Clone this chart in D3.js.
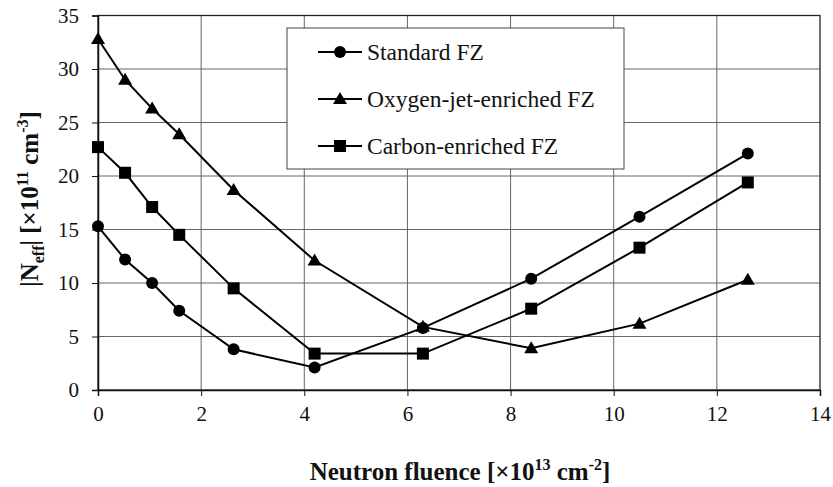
<!DOCTYPE html>
<html>
<head>
<meta charset="utf-8">
<script src="https://cdn.jsdelivr.net/npm/d3@7"></script>
<style>
  body { margin: 0; background: #fff; }
  svg { font-family: "Liberation Serif", "Times New Roman", serif; }
</style>
</head>
<body>
<div id="chart"></div>
<script>
// fluence values [x10^13 cm^-2]
var fluence = [0, 0.525, 1.05, 1.575, 2.63, 4.2, 6.3, 8.4, 10.5, 12.6];
// |Neff| [x10^11 cm^-3]
var standardFZ = [15.3, 12.2, 10.0, 7.4, 3.8, 2.1, 5.8, 10.4, 16.2, 22.1];
var oxygenFZ   = [32.8, 29.0, 26.3, 23.9, 18.7, 12.1, 5.9, 3.9, 6.2, 10.3];
var carbonFZ   = [22.7, 20.3, 17.1, 14.5, 9.5, 3.4, 3.4, 7.6, 13.3, 19.4];
var seriesNames = ["Standard FZ", "Oxygen-jet-enriched FZ", "Carbon-enriched FZ"];
var seriesMarks = ["circle", "triangle", "square"];
var xTicks = [0, 2, 4, 6, 8, 10, 12, 14];
var yTicks = [0, 5, 10, 15, 20, 25, 30, 35];

var width = 833, height = 487;
var margin = {left: 98, right: 13, top: 15.5, bottom: 97};

var svg = d3.select("#chart").append("svg")
            .attr("width", width)
            .attr("height", height);

var x = d3.scaleLinear().domain([0, 14]).range([margin.left, width - margin.right]);
var y = d3.scaleLinear().domain([0, 35]).range([height - margin.bottom, margin.top]);

// grid
svg.append("g").selectAll("line.h")
   .data(yTicks.slice(1, -1)).enter().append("line")
   .attr("x1", x(0)).attr("x2", x(14))
   .attr("y1", function(d) { return y(d); }).attr("y2", function(d) { return y(d); })
   .attr("stroke", "#666").attr("stroke-width", 1);

svg.append("g").selectAll("line.v")
   .data(xTicks.slice(1, -1)).enter().append("line")
   .attr("y1", y(0)).attr("y2", y(35))
   .attr("x1", function(d) { return x(d); }).attr("x2", function(d) { return x(d); })
   .attr("stroke", "#666").attr("stroke-width", 1);

// frame
svg.append("rect")
   .attr("x", x(0)).attr("y", y(35))
   .attr("width", x(14) - x(0)).attr("height", y(0) - y(35))
   .attr("fill", "none").attr("stroke", "#222").attr("stroke-width", 1.3);

// axes
var xAxis = svg.append("g")
   .attr("transform", "translate(0," + y(0) + ")")
   .call(d3.axisBottom(x).tickValues(xTicks).tickSize(6).tickPadding(10).tickFormat(d3.format("d")));
var yAxis = svg.append("g")
   .attr("transform", "translate(" + x(0) + ",0)")
   .call(d3.axisLeft(y).tickValues(yTicks).tickSize(6).tickPadding(13).tickFormat(d3.format("d")));

[xAxis, yAxis].forEach(function(ax) {
  ax.select(".domain").attr("stroke", "#111").attr("stroke-width", 1.5);
  ax.selectAll(".tick line").attr("stroke", "#111");
  ax.selectAll("text")
    .attr("fill", "#111")
    .style("font-family", "Liberation Serif")
    .style("font-size", "21px");
});

// symbols
function drawMark(g, kind, cx, cy) {
  if (kind === "circle") {
    g.append("circle").attr("cx", cx).attr("cy", cy).attr("r", 6).attr("fill", "#000");
  } else if (kind === "square") {
    g.append("rect").attr("x", cx - 6).attr("y", cy - 6)
     .attr("width", 12).attr("height", 12).attr("fill", "#000");
  } else {
    g.append("path")
     .attr("d", "M" + cx + "," + (cy - 7) + "L" + (cx + 7) + "," + (cy + 5) + "L" + (cx - 7) + "," + (cy + 5) + "Z")
     .attr("fill", "#000");
  }
}

var allSeries = [standardFZ, oxygenFZ, carbonFZ];
var line = d3.line()
   .x(function(d, i) { return x(fluence[i]); })
   .y(function(d) { return y(d); });

allSeries.forEach(function(vals, s) {
  var g = svg.append("g");
  g.append("path")
   .datum(vals)
   .attr("d", line)
   .attr("fill", "none")
   .attr("stroke", "#000")
   .attr("stroke-width", 2);
  vals.forEach(function(v, i) {
    drawMark(g, seriesMarks[s], x(fluence[i]), y(v));
  });
});

// legend
var legend = svg.append("g");
legend.append("rect")
   .attr("x", 287).attr("y", 28)
   .attr("width", 337).attr("height", 141)
   .attr("fill", "#fff").attr("stroke", "#444").attr("stroke-width", 1);

seriesNames.forEach(function(name, i) {
  var ly = 52 + i * 47;
  legend.append("line")
     .attr("x1", 318).attr("x2", 362)
     .attr("y1", ly).attr("y2", ly)
     .attr("stroke", "#000").attr("stroke-width", 2);
  drawMark(legend, seriesMarks[i], 340, ly);
  legend.append("text")
     .attr("x", 367).attr("y", ly + 8)
     .attr("fill", "#111")
     .attr("font-size", "23.5px")
     .text(name);
});

// x title
var xt = svg.append("text")
   .attr("x", 460).attr("y", 480)
   .attr("text-anchor", "middle")
   .attr("font-weight", "bold")
   .attr("font-size", "25px")
   .attr("fill", "#111");
xt.append("tspan").text("Neutron fluence [\u00d710");
xt.append("tspan").attr("dy", -10).attr("font-size", "16px").text("13");
xt.append("tspan").attr("dy", 10).text(" cm");
xt.append("tspan").attr("dy", -10).attr("font-size", "16px").text("-2");
xt.append("tspan").attr("dy", 10).text("]");

// y title
var yt = svg.append("text")
   .attr("transform", "translate(38,199) rotate(-90)")
   .attr("text-anchor", "middle")
   .attr("font-weight", "bold")
   .attr("font-size", "25px")
   .attr("fill", "#111");
yt.append("tspan").text("|N");
yt.append("tspan").attr("dy", 6).attr("font-size", "16px").text("eff");
yt.append("tspan").attr("dy", -6).text("| [\u00d710");
yt.append("tspan").attr("dy", -10).attr("font-size", "16px").text("11");
yt.append("tspan").attr("dy", 10).text(" cm");
yt.append("tspan").attr("dy", -10).attr("font-size", "16px").text("-3");
yt.append("tspan").attr("dy", 10).text("]");
</script>
</body>
</html>
